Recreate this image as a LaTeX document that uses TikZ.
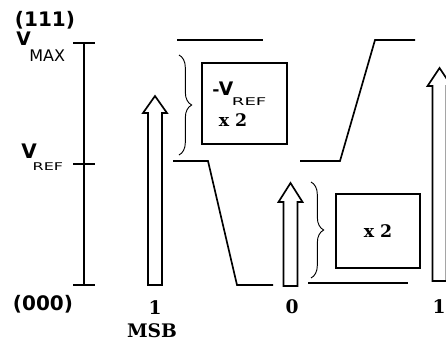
\documentclass[tikz,border=0pt]{standalone}
\usepackage{fontspec}
\setmainfont{DejaVu Serif}
\newfontfamily\labfont{DejaVu Sans}
\usetikzlibrary{decorations.pathreplacing}

% V with a low, stretched subscript
\newcommand\vsub[4]{{\labfont\bfseries\fontsize{#1}{#1}\selectfont V}\kern#4\raisebox{-#3}{\labfont\fontsize{8}{8}\selectfont\scalebox{#2}[1]{REF}}}

\tikzset{
  ln/.style={line width=1.25pt},
  binlab/.style={font=\bfseries\fontsize{14}{14}\selectfont, inner sep=0pt},
  codelab/.style={font=\labfont\bfseries\fontsize{15}{15}\selectfont, inner sep=0pt},
  stagebox/.style={draw, line width=1.25pt, inner sep=0pt, minimum width=#1},
  curly/.style={decorate, decoration={brace, amplitude=9.5pt}, line width=0.7pt},
}

\begin{document}
\begin{tikzpicture}[x=0.75pt,y=-0.75pt]
  \useasboundingbox (0,0) rectangle (446,343);
  \clip (0,0) rectangle (446,343);

  % voltage scale
  \coordinate (vmax) at (84,43);
  \coordinate (vref) at (84,164);
  \coordinate (vzero) at (84,285);
  \draw[ln] (vmax) -- (vzero);
  \foreach \p in {vmax,vref,vzero}
    {\draw[ln] ([xshift=-8pt]\p) -- ([xshift=8pt]\p);}
  \node[codelab] (c111) at (45,20) {(111)};
  \node[codelab] (c000) at (43,304) {(000)};
  \node[anchor=base west, inner sep=0pt] (lmax) at (16,45)
    {{\labfont\bfseries\fontsize{14}{14}\selectfont V}\kern-1pt{\raisebox{-12pt}{\labfont\fontsize{12}{12}\selectfont MAX}}};
  \node[anchor=base west, inner sep=0pt] (lref) at (21,158) {\vsub{15}{1.5}{9pt}{-3pt}};

  % bits, as hollow arrows
  \foreach \c/\b/\h/\t in {155/285/113/96, 290.5/286/202/183, 439.5/281/86/68}
    {\draw[ln] (\c-7,\b) -- (\c-7,\h) -- (\c-12,\h) -- (\c,\t)
       -- (\c+12,\h) -- (\c+7,\h) -- (\c+7,\b) -- cycle;}
  \node[binlab] (b1) at (155,308) {1};
  \node[binlab] (msb) at (152,331) {MSB};
  \node[binlab] (b2) at (292,307) {0};
  \node[binlab] (b3) at (439,307) {1};

  % first stage: subtract and double
  \draw[ln] (177,40) -- (263,40);
  \draw[ln] (173,161) -- (208,161) -- (237,285) -- (273,285);
  \draw[curly] (179,55) -- (179,155);
  \node[stagebox=85*0.75pt, minimum height=81*0.75pt] (stage1) at (244.5,103.5) {};
  \node[anchor=base west, inner sep=0pt] (sub1) at (212,95)
    {{\bfseries\fontsize{13}{13}\selectfont -}\kern-0.5pt\vsub{14}{1.7}{7.5pt}{-1pt}};
  \node[binlab, font=\bfseries\fontsize{13}{13}\selectfont] (dbl1) at (233,120) {x 2};

  % second stage: double only
  \draw[ln] (300,161) -- (340,161) -- (375,40) -- (415,40);
  \draw[ln] (308,283) -- (408,283);
  \draw[curly] (311,182) -- (311,278);
  \node[stagebox=84*0.75pt, minimum height=74*0.75pt] (stage2) at (378,231) {};
  \node[binlab, font=\bfseries\fontsize{13}{13}\selectfont] (dbl2) at (stage2) {x 2};
\end{tikzpicture}
\end{document}
